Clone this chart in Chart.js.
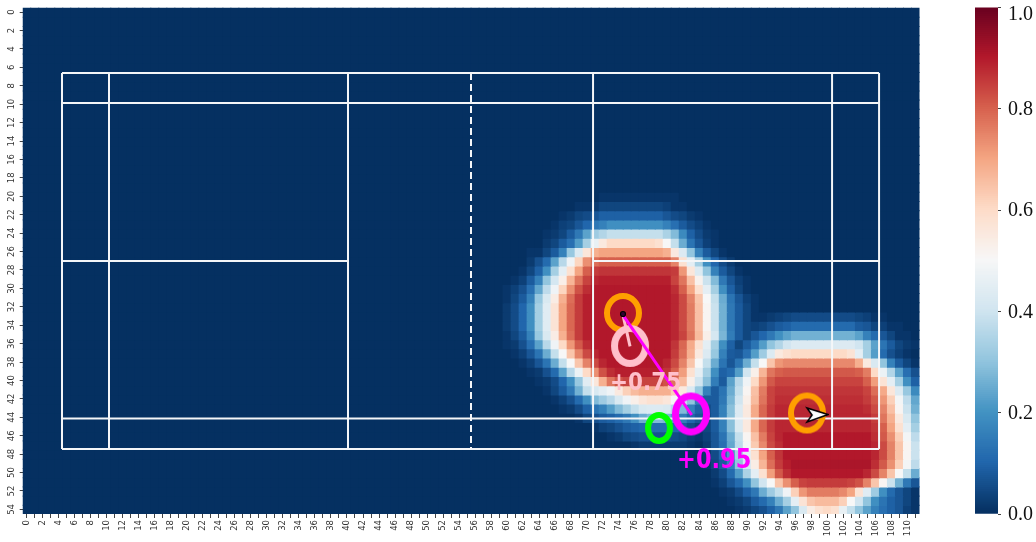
<!DOCTYPE html>
<html><head><meta charset="utf-8">
<script src="https://cdn.jsdelivr.net/npm/chart.js@4/dist/chart.umd.min.js"></script>
<style>html,body{margin:0;padding:0;background:#fff;width:1036px;height:542px;overflow:hidden}
canvas{position:absolute;top:0;filter:blur(0.4px)}</style></head><body>
<canvas id="main" width="960" height="542" style="left:0;width:960px;height:542px"></canvas>
<canvas id="bar" width="76" height="542" style="left:960px;width:76px;height:542px"></canvas>
<script>
const COLS = 112, ROWS = 55;
const colorStops = ['#053061','#2166ac','#4393c3','#92c5de','#d1e5f0','#f7f7f7','#fddbc7','#f4a582','#d6604d','#b2182b','#67001f'];
// Heat readings in hundredths: [row, firstColumn, values...]
const rowsLeftBlob = [
[20,72,1,1,1,1,1,1,1,1,1,1],
[21,69,1,1,2,4,4,4,4,4,4,4,4,3,1,1],
[22,67,1,2,4,5,7,9,9,9,9,9,9,9,9,7,5,4,2,1],
[23,66,1,3,4,7,10,14,16,19,19,19,19,19,19,19,16,12,8,5,3,1],
[24,65,1,2,4,8,14,23,32,35,38,38,38,38,38,38,38,34,28,18,9,5,2,1],
[25,65,2,4,8,12,22,33,46,55,60,60,60,60,60,60,58,50,38,25,13,7,3,1],
[26,63,1,1,4,8,16,31,43,56,68,70,70,70,70,70,70,70,70,68,55,43,30,16,8,4,1],
[27,63,2,6,11,23,36,48,61,73,78,80,80,80,80,80,80,80,80,80,75,58,45,33,19,10,5,2],
[28,62,1,4,9,19,33,45,58,70,80,85,86,86,86,86,86,86,86,86,86,85,72,56,43,30,16,8,4,1],
[29,61,1,3,8,16,30,41,53,67,77,84,88,89,89,89,89,89,89,89,89,89,84,77,65,52,39,28,14,7,3,1],
[30,60,1,3,6,12,24,37,48,61,73,82,87,90,90,90,90,90,90,90,90,90,90,87,80,70,58,45,33,19,9,4,1],
[31,60,1,4,8,16,31,42,54,68,78,85,89,90,90,90,90,90,90,90,90,90,90,88,83,75,64,50,38,25,13,7,3,1],
[32,60,2,5,10,19,33,44,57,70,79,85,89,90,90,90,90,90,90,90,90,90,90,88,83,76,65,51,39,26,14,8,4,1],
[33,60,2,5,10,19,33,44,57,70,79,85,89,90,90,90,90,90,90,90,90,90,90,88,83,76,65,51,39,26,14,8,4,1],
[34,60,2,5,10,19,33,44,57,70,79,85,89,90,90,90,90,90,90,90,90,90,90,88,83,76,65,51,39,26,14,8,4,1],
[35,60,1,4,8,16,31,42,54,68,78,85,89,90,90,90,90,90,90,90,90,90,90,88,84,77,66,53,41,27,15,8,4],
[36,60,1,2,6,12,23,36,48,60,72,81,87,90,90,90,90,90,90,90,90,90,90,86,79,69,58,45,33,19,9,4,1],
[37,61,1,3,7,13,25,38,50,64,75,83,88,90,90,90,90,90,90,90,90,90,85,78,68,55,43,31,16,8,4,1],
[38,62,1,3,7,13,25,38,50,64,75,83,88,90,90,90,90,90,90,90,88,83,75,64,50,38,25,13,7,3,1],
[39,63,1,2,6,11,23,36,47,60,73,82,87,89,89,89,89,89,89,86,80,71,58,45,33,19,9,4,1],
[40,64,1,2,5,10,19,31,44,56,68,77,82,84,84,84,84,84,82,77,66,53,40,29,15,8,4,1],
[41,65,1,4,8,14,26,38,42,45,48,55,62,66,68,68,68,68,62,55,43,31,16,8,4,1],
[42,66,1,3,6,11,19,28,32,36,42,48,53,56,58,58,56,50,40,30,16,8,4,1],
[43,67,1,2,5,9,13,16,22,28,33,38,42,43,43,42,36,28,16,9,5,2,1],
[44,69,1,4,6,8,9,11,14,19,25,28,28,27,22,15,10,7,4,1,1],
[45,71,1,3,4,6,8,9,10,11,11,11,10,8,5,3,1],
[46,73,1,2,4,5,6,6,6,6,5,4,2,1],
[47,76,1,2,2,2,2,2,2,1]
];
const rowsRightBlob = [
[33,91,1,1,2,3,4,5,5,5,5,5,5,5,5,4,3,1,1],
[34,89,1,1,3,4,6,8,9,11,11,11,11,11,11,11,11,8,7,4,3,1,1],
[35,88,1,2,4,7,10,14,19,23,26,26,26,26,26,26,26,26,23,16,11,7,4,1,1],
[36,87,1,2,4,8,13,22,30,35,40,43,43,43,43,43,43,43,43,40,33,23,13,8,4,2,1],
[37,87,1,4,7,12,22,32,43,55,58,60,60,60,60,60,60,60,57,45,33,22,11,6,3,1],
[38,86,1,2,7,13,25,38,50,64,72,74,74,74,74,74,74,74,74,74,68,55,42,30,16,8,4,1],
[39,86,1,5,11,22,40,53,67,77,80,81,81,81,81,81,81,81,81,81,80,76,60,47,35,23,12,6],
[40,85,1,3,8,23,36,48,60,72,81,84,84,84,84,84,84,84,84,84,84,84,80,71,57,45,33,19,9],
[41,85,3,7,13,25,38,51,65,76,84,86,86,86,86,86,86,86,86,86,86,86,84,78,69,56,43,31,18],
[42,85,3,8,14,27,40,53,66,77,84,87,87,87,87,87,87,87,87,87,87,87,85,81,72,62,49,37,24],
[43,85,4,8,16,29,43,55,69,79,85,88,88,88,88,88,88,88,88,88,88,88,87,83,75,65,51,39,26],
[44,85,4,8,16,29,43,55,69,79,85,88,88,88,88,88,88,88,88,88,88,88,88,85,77,68,55,42,30],
[45,85,4,8,16,29,43,55,69,79,85,88,88,88,88,88,88,88,88,88,88,88,88,86,80,70,58,45,33],
[46,85,3,7,13,25,38,51,65,76,84,88,90,90,90,90,90,90,90,90,90,90,90,87,81,73,62,49,37],
[47,85,2,7,12,24,37,49,63,74,83,87,90,90,90,90,90,90,90,90,90,90,90,88,83,75,64,51,39],
[48,85,1,5,10,21,33,45,58,70,80,86,90,90,90,90,90,90,90,90,90,90,90,88,83,75,64,51,39],
[49,85,1,4,8,16,30,41,54,67,78,85,89,91,91,91,91,91,91,91,91,91,91,87,81,73,62,49,37],
[50,86,2,5,11,22,34,45,58,71,81,87,90,90,90,90,90,90,90,90,90,88,83,75,64,50,38,25],
[51,86,1,3,7,11,19,30,40,50,64,73,80,84,85,85,85,85,85,84,82,75,64,51,39,26,14,7],
[52,87,1,2,5,9,14,25,32,38,48,62,72,76,76,76,76,74,70,57,44,32,19,11,7,4,1],
[53,88,1,2,4,8,11,16,25,33,45,57,64,66,66,66,62,50,40,30,19,13,9,7,4,1],
[54,89,1,2,4,6,9,14,23,30,42,54,58,60,58,46,38,30,23,16,12,9,7,3,1]
];
const xTickLabels = Array.from({length:COLS},(_,i)=>String(i));
const yTickValues = [0,2,4,6,8,10,12,14,16,18,20,22,24,26,28,30,32,34,36,38,40,42,44,46,48,50,52,54];
// court lines, in heat-map cell coordinates
const courtX = [4.41,10.28,40.13,70.73,100.58,106.45];
const courtDashedX = 55.49;
const courtTop = 6.61, courtBottom = 47.43;
const courtFullY = [6.61,9.87,44.13,47.43];
const courtMidY = 27.03;
const courtMidSpans = [[4.41,40.13],[70.73,106.45]];
const pathStart = {x:74.47,y:32.9};
const magentaEnd = {x:83.05,y:43.75};
const pinkEnd = {x:75.35,y:36.3};
const orangeA = {x:74.47,y:32.67}, orangeB = {x:97.45,y:43.53};
const pinkRing = {x:75.35,y:36.25}, greenRing = {x:78.97,y:45.16}, magentaRing = {x:82.96,y:43.64};
const blackDot = {x:74.47,y:32.78}, arrowPos = {x:98.7,y:43.75};
const labelPink = {x:72.85,y:41.03,t:'+0.75'}, labelMagenta = {x:81.22,y:49.5,t:'+0.95'};
const colorbarTicks = [0,0.2,0.4,0.6,0.8,1];

function hex(h){return [1,3,5].map(i=>parseInt(h.substr(i,2),16));}
function cmap(v){
  const p=Math.max(0,Math.min(1,v))*10, i=Math.min(9,Math.floor(p)), t=p-i, a=hex(colorStops[i]), b=hex(colorStops[i+1]);
  return 'rgb('+a.map((c,k)=>Math.round(c+(b[k]-c)*t)).join(',')+')';
}
const grid = Array.from({length:ROWS},()=>new Array(COLS).fill(0));
for (const src of [rowsLeftBlob,rowsRightBlob]) for (const r of src)
  for (let k=2;k<r.length;k++) if(r[1]+k-2<COLS) grid[r[0]][r[1]+k-2]=Math.max(grid[r[0]][r[1]+k-2],r[k]/100);

function ring(color,w,h,lw){
  const c=document.createElement('canvas');c.width=w+2;c.height=h+2;
  const g=c.getContext('2d');g.strokeStyle=color;g.lineWidth=lw;g.beginPath();
  g.ellipse((w+2)/2,(h+2)/2,(w-lw)/2,(h-lw)/2,0,0,Math.PI*2);g.stroke();return c;
}
function arrow(){
  const c=document.createElement('canvas');c.width=24;c.height=20;
  const g=c.getContext('2d');g.beginPath();g.moveTo(23,9.5);g.lineTo(2,3);g.lineTo(7,10);g.lineTo(2,17);g.closePath();
  g.fillStyle='#fff';g.strokeStyle='#000';g.lineWidth=1.6;g.lineJoin='miter';g.fill();g.stroke();return c;
}
const heatSets = grid.map((vals,r)=>({
  type:'bar', order:100, grouped:false, barPercentage:1.13, categoryPercentage:1, borderWidth:0,
  data: vals.map(()=>[r-0.5,r+0.62]), backgroundColor: vals.map(cmap), xAxisID:'x', yAxisID:'y'
}));
function line(pts,color,w,order,dash){
  return {type:'scatter',showLine:true,order:order,data:pts,borderColor:color,backgroundColor:color,borderWidth:w,
    pointRadius:0,borderDash:dash||[],xAxisID:'x2',yAxisID:'y'};
}
function marker(p,style,order){
  return {type:'scatter',order:order,data:[p],pointStyle:style,pointRadius:10,xAxisID:'x2',yAxisID:'y',borderWidth:0};
}
const courtSets = [];
courtX.forEach(x=>courtSets.push(line([{x,y:courtTop},{x,y:courtBottom}],'#f4f6f8',2,50)));
courtSets.push(line([{x:courtDashedX,y:courtTop},{x:courtDashedX,y:courtBottom}],'#f4f6f8',2,50,[7,4]));
courtFullY.forEach(y=>courtSets.push(line([{x:courtX[0],y},{x:courtX[5],y}],'#f4f6f8',2,50)));
courtMidSpans.forEach(s=>courtSets.push(line([{x:s[0],y:courtMidY},{x:s[1],y:courtMidY}],'#f4f6f8',2,50)));

const overlaySets = [
  marker(orangeA,ring('#ff9f00',38,40,6),40),
  marker(orangeB,ring('#ff9f00',38,41,6),40),
  marker(greenRing,ring('#00ff00',28,32,6),39),
  line([pathStart,pinkEnd],'#ffc0cb',3,38),
  marker(pinkRing,ring('#ffc0cb',38,42,7),37),
  line([pathStart,magentaEnd],'#ff00ff',3,36),
  marker(magentaRing,ring('#ff00ff',38,43,7),35),
  {type:'scatter',order:34,data:[blackDot],pointStyle:'circle',pointRadius:2.5,backgroundColor:'#300030',borderColor:'#000',borderWidth:1.2,xAxisID:'x2',yAxisID:'y'},
  marker(arrowPos,arrow(),33)
];
function stretched(g,text,x,y){g.save();g.translate(x,y);g.scale(1,1.15);g.fillText(text,0,0);g.restore();}
const labelPlugin = {id:'labels',afterDatasetsDraw(c){
  const g=c.ctx,sx=c.scales.x2,sy=c.scales.y;g.save();g.textBaseline='alphabetic';g.textAlign='left';
  g.font='bold 21.5px "DejaVu Sans"';g.fillStyle='#ffc0cb';stretched(g,labelPink.t,sx.getPixelForValue(labelPink.x),sy.getPixelForValue(labelPink.y));
  g.font='bold 22.5px "DejaVu Sans"';g.fillStyle='#ff00ff';stretched(g,labelMagenta.t,sx.getPixelForValue(labelMagenta.x),sy.getPixelForValue(labelMagenta.y));
  // left axis labels, rotated and centred on their ticks
  g.font='8.5px "DejaVu Sans"';g.fillStyle='#333';g.textAlign='center';g.textBaseline='middle';
  yTickValues.forEach(v=>{g.save();g.translate(12,sy.getPixelForValue(v));g.rotate(-Math.PI/2);g.fillText(String(v),0,0);g.restore();});
  g.restore();
}};
const tickFont = {family:'"DejaVu Sans"',size:8.5};
new Chart(document.getElementById('main'),{
  data:{labels:xTickLabels,datasets:[...overlaySets,...courtSets,...heatSets]},
  plugins:[labelPlugin],
  options:{responsive:false,animation:false,events:[],
    layout:{autoPadding:false,padding:{top:7.5,right:40.5,left:0,bottom:0}},
    plugins:{legend:{display:false},tooltip:{enabled:false}},
    scales:{
      x:{type:'category',offset:true,position:'bottom',
        grid:{display:true,drawOnChartArea:false,drawTicks:true,tickLength:4,color:'#444',offset:false},border:{display:false},
        afterFit(s){s.height=28;s.paddingLeft=0;s.paddingRight=0;},
        ticks:{autoSkip:false,minRotation:90,maxRotation:90,padding:2,color:'#333',font:tickFont,
          callback(v,i){return i%2===0?this.getLabelForValue(v):'';}}},
      x2:{type:'linear',display:false,min:-0.5,max:111.5},
      y:{type:'linear',reverse:true,min:-0.5,max:54.5,position:'left',
        afterFit(s){s.width=22.7;s.paddingTop=0;s.paddingBottom=0;},
        afterBuildTicks(s){s.ticks=yTickValues.map(v=>({value:v}));},
        grid:{display:true,drawOnChartArea:false,tickLength:3,color:'#444'},border:{display:false},
        ticks:{display:false}}
    }}
});
// colour bar
const cbLevels = Array.from({length:256},(_,i)=>i/256);
const cbText = {id:'cbText',afterDraw(c){
  const g=c.ctx,s=c.scales.y;g.save();g.font='20px "Liberation Serif"';g.fillStyle='#111';g.textBaseline='middle';g.textAlign='left';
  colorbarTicks.forEach(v=>{g.fillText(v.toFixed(1),48,s.getPixelForValue(v)+(v===1?7:1));});g.restore();
}};
new Chart(document.getElementById('bar'),{
  data:{labels:['c'],datasets:cbLevels.map(v=>({type:'bar',grouped:false,barPercentage:1,categoryPercentage:1,borderWidth:0,
    data:[[v,v+1/256+0.002]],backgroundColor:cmap(v+0.002)}))},
  plugins:[cbText],
  options:{responsive:false,animation:false,events:[],
    layout:{autoPadding:false,padding:{top:7.5,left:15,bottom:28,right:0}},
    plugins:{legend:{display:false},tooltip:{enabled:false}},
    scales:{
      x:{display:false,offset:true},
      y:{type:'linear',min:0,max:1,position:'right',afterFit(s){s.width=38;},
        afterBuildTicks(s){s.ticks=colorbarTicks.map(v=>({value:v}));},
        grid:{display:true,drawOnChartArea:false,tickLength:3,color:'#444'},border:{display:false},
        ticks:{display:false}}
    }}
});
</script></body></html>
